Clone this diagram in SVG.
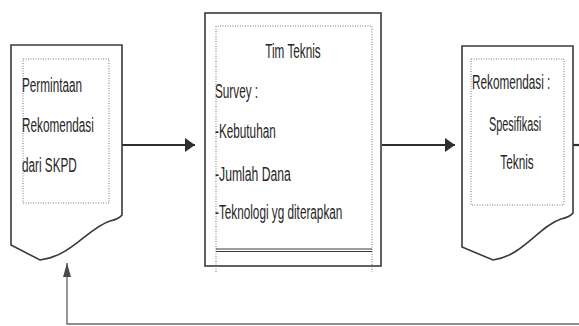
<svg xmlns="http://www.w3.org/2000/svg" width="579" height="326" viewBox="0 0 579 326">
  <style>
    .doc { fill: #ffffff; stroke: #3a3a3a; stroke-width: 1.6; }
    .box { fill: #ffffff; stroke: #3a3a3a; stroke-width: 1.6; }
    .dots { fill: none; stroke: #777; stroke-width: 1; stroke-dasharray: 1 1.5; }
    .flow { fill: none; stroke: #2e2e2e; stroke-width: 2.2; }
    .back { fill: none; stroke: #6a6a6a; stroke-width: 1.4; }
    .lbl { font-family: "Liberation Sans", "Open Sans", sans-serif; font-size: 21px; fill: #262626; }
    .mid { text-anchor: middle; }
  </style>
  <defs>
    <marker id="head" viewBox="0 0 10 14" refX="10" refY="7" markerWidth="10" markerHeight="14" markerUnits="userSpaceOnUse" orient="auto">
      <path d="M0,0 L10,7 L0,14 Z" fill="#2e2e2e"/>
    </marker>
    <marker id="headThin" viewBox="0 0 14 8" refX="14" refY="4" markerWidth="14" markerHeight="8" markerUnits="userSpaceOnUse" orient="auto">
      <path d="M0,0 L14,4 L0,8 Z" fill="#4a4a4a"/>
    </marker>
  </defs>

  <rect width="579" height="326" fill="#ffffff"/>

  <!-- connectors -->
  <g id="connectors">
    <line class="flow" x1="122" y1="145" x2="195" y2="145" marker-end="url(#head)"/>
    <line class="flow" x1="382" y1="145" x2="455" y2="145" marker-end="url(#head)"/>
    <line class="flow" x1="573" y1="145" x2="579" y2="145"/>
    <path class="back" d="M579,324 H67 V263" marker-end="url(#headThin)"/>
  </g>

  <!-- request document -->
  <g id="permintaan">
    <path class="doc" d="M11,45 H122 V215 Q119,219 110,221 C88,228 72,256 40,260 L11,245 Z"/>
    <rect class="dots" x="23" y="59" width="86" height="144"/>
    <text class="lbl" transform="translate(22,92) scale(0.56,1)">Permintaan</text>
    <text class="lbl" transform="translate(22,132) scale(0.56,1)">Rekomendasi</text>
    <text class="lbl" transform="translate(22,172) scale(0.56,1)">dari SKPD</text>
  </g>

  <!-- technical team process -->
  <g id="tim-teknis">
    <rect class="box" x="205" y="13" width="176" height="253"/>
    <path class="dots" d="M216,272 V26 H372 V272"/>
    <line x1="216" y1="249" x2="372" y2="249" stroke="#3a3a3a" stroke-width="1.2"/>
    <line x1="216" y1="251.5" x2="372" y2="251.5" stroke="#3a3a3a" stroke-width="1.2"/>
    <text class="lbl mid" transform="translate(293,58) scale(0.56,1)">Tim Teknis</text>
    <text class="lbl" transform="translate(215,98) scale(0.56,1)">Survey :</text>
    <text class="lbl" transform="translate(215,138) scale(0.56,1)">-Kebutuhan</text>
    <text class="lbl" transform="translate(215,181) scale(0.58,1)">-Jumlah Dana</text>
    <text class="lbl" transform="translate(215,219) scale(0.56,1)">-Teknologi yg diterapkan</text>
  </g>

  <!-- recommendation document -->
  <g id="rekomendasi">
    <path class="doc" d="M462,46 H573 V213 Q570,217 561,219 C539,226 523,256 493,260 L462,247 Z"/>
    <rect class="dots" x="471" y="59" width="93" height="146"/>
    <text class="lbl" transform="translate(472,89) scale(0.56,1)">Rekomendasi :</text>
    <text class="lbl mid" transform="translate(515,131) scale(0.52,1)">Spesifikasi</text>
    <text class="lbl mid" transform="translate(517,169) scale(0.56,1)">Teknis</text>
  </g>
</svg>
